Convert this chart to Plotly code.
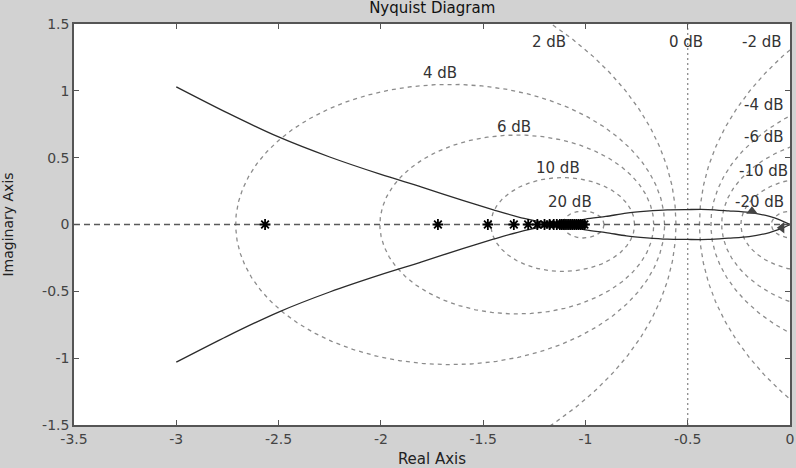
import numpy as np
import plotly.graph_objects as go

# Nyquist curve (upper half; lower half is the mirror image)
re_left = [-3.0, -2.75, -2.5, -2.25, -2.0, -1.8, -1.6, -1.45, -1.3, -1.2, -1.1]
im_left = [1.03, 0.835, 0.655, 0.505, 0.375, 0.28, 0.18, 0.11, 0.045, 0.015, 0.0]
re_right = [-1.1, -1.0, -0.9, -0.8, -0.7, -0.6, -0.5, -0.4, -0.3, -0.2, -0.1, -0.05, 0.0]
im_right = [0.0, 0.04, 0.06, 0.085, 0.1, 0.11, 0.112, 0.112, 0.102, 0.09, 0.06, 0.035, 0.0]

# describing-function points on the real axis
df_re = [-2.566, -1.721, -1.477, -1.35, -1.28, -1.235, -1.2, -1.175, -1.155,
         -1.14, -1.125, -1.115, -1.105, -1.095, -1.085, -1.075, -1.065,
         -1.055, -1.045, -1.035, -1.025, -1.015, -1.005]

# M-circle grid (closed-loop magnitude, dB)
m_db = [-20, -10, -6, -4, -2, 0, 2, 4, 6, 10, 20]
m_labels = ["-20 dB", "-10 dB", "-6 dB", "-4 dB", "-2 dB", "0 dB",
            "2 dB", "4 dB", "6 dB", "10 dB", "20 dB"]
label_pos = [(-0.147, 0.169), (-0.128, 0.40), (-0.128, 0.655), (-0.128, 0.894),
             (-0.137, 1.365), (-0.509, 1.365), (-1.178, 1.365), (-1.711, 1.133),
             (-1.349, 0.730), (-1.134, 0.423), (-1.076, 0.169)]

grid_col = "#8c8c8c"
fig = go.Figure()

t = np.linspace(0, 2 * np.pi, 721)
for db in m_db:
    if db == 0:
        fig.add_trace(go.Scatter(x=[-0.5, -0.5], y=[-1.5, 1.5], mode="lines",
                                 line=dict(color=grid_col, width=1.3, dash="2px,3px"),
                                 hoverinfo="skip", showlegend=False))
        continue
    m = 10 ** (db / 20)
    c = -m ** 2 / (m ** 2 - 1)
    r = abs(m / (m ** 2 - 1))
    fig.add_trace(go.Scatter(x=c + r * np.cos(t), y=r * np.sin(t), mode="lines",
                             line=dict(color=grid_col, width=1.3, dash="4px,4px"),
                             hoverinfo="skip", showlegend=False))

# real axis
fig.add_trace(go.Scatter(x=[-3.5, 0], y=[0, 0], mode="lines",
                         line=dict(color="#5a5a5a", width=1.4, dash="6px,4px"),
                         showlegend=False))

curve_re = re_left + re_right[1:]
curve_im = im_left + im_right[1:]
for sgn in (1, -1):
    fig.add_trace(go.Scatter(x=curve_re, y=[sgn * v for v in curve_im], mode="lines",
                             line=dict(color="#2b2b2b", width=1.3, shape="spline",
                                       smoothing=0.8),
                             showlegend=False))

# direction arrows
fig.add_trace(go.Scatter(x=[-0.186, -0.04], y=[0.1, -0.025], mode="markers",
                         marker=dict(symbol=["triangle-up", "triangle-left"], size=10,
                                     color="#444444"),
                         showlegend=False))

fig.add_trace(go.Scatter(x=df_re, y=[0] * len(df_re), mode="markers",
                         marker=dict(symbol="asterisk-open", size=9, color="black",
                                     line=dict(color="black", width=1.8)),
                         showlegend=False))

for txt, (lx, ly) in zip(m_labels, label_pos):
    fig.add_annotation(x=lx, y=ly, text=txt, showarrow=False,
                       font=dict(size=15, color="#333333"))

axis_common = dict(showgrid=False, zeroline=False, showline=True, linecolor="#555555",
                   linewidth=1.5, mirror="ticks", ticks="inside", ticklen=5,
                   tickcolor="#555555", tickfont=dict(size=14, color="#444444"),
                   automargin=False)

fig.update_layout(
    width=796, height=468,
    margin=dict(l=74, r=6, t=24, b=43),
    paper_bgcolor="#d2d2d2", plot_bgcolor="white",
    font=dict(family="DejaVu Sans"),
    title=dict(text="Nyquist Diagram", x=0.543, xanchor="center", y=0.995,
               yanchor="top", font=dict(size=15, color="#111111")),
    xaxis=dict(range=[-3.5, 0], tickvals=[-3.5, -3, -2.5, -2, -1.5, -1, -0.5, 0],
               ticktext=["-3.5", "-3", "-2.5", "-2", "-1.5", "-1", "-0.5", "0"],
               title=dict(text="Real Axis", standoff=9, font=dict(size=15, color="#222222")),
               **axis_common),
    yaxis=dict(range=[-1.5, 1.5], tickvals=[-1.5, -1, -0.5, 0, 0.5, 1, 1.5],
               ticktext=["-1.5", "-1", "-0.5", "0", "0.5", "1", "1.5"],
               title=dict(text="Imaginary Axis", standoff=32, font=dict(size=14, color="#222222")),
               **axis_common),
)

fig.write_html("out.html", config={"displayModeBar": False},
               post_script="document.body.style.margin='0';")
